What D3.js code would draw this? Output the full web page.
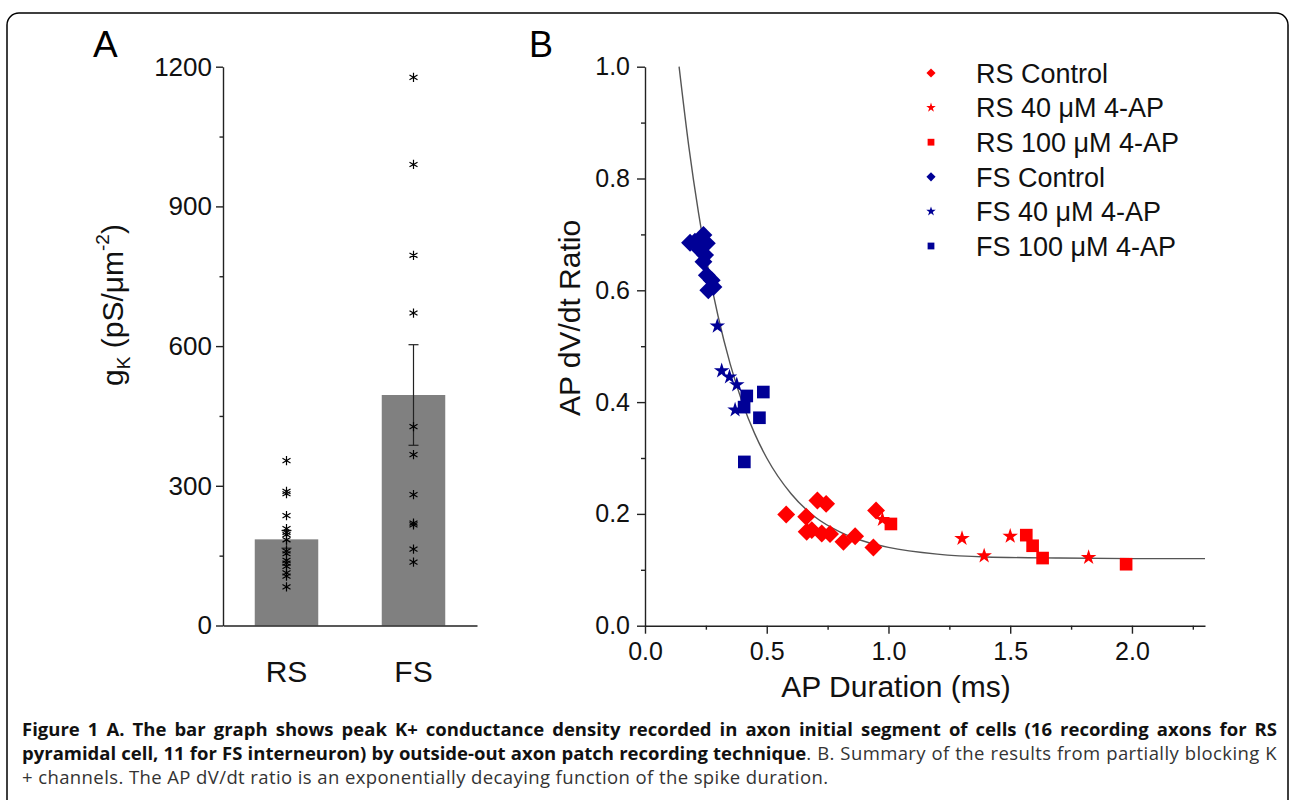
<!DOCTYPE html>
<html>
<head>
<meta charset="utf-8">
<script src="https://cdn.jsdelivr.net/npm/d3@7"></script>
<style>
body { margin: 0; background: #fff; }
#fig { position: relative; width: 1290px; height: 800px; overflow: hidden; background: #fff; }
#fig svg { position: absolute; left: 0; top: 0; }
.cap { position: absolute; left: 22px; width: 1255px; font-family: "Open Sans", sans-serif; font-size: 18.5px; line-height: 24px; color: #333; text-align: justify; text-align-last: justify; white-space: nowrap; }
.cap.last { text-align: left; text-align-last: left; }
.cap b { color: #111; }
.cap span { letter-spacing: 0.4px; }
</style>
</head>
<body>
<div id="fig"></div>
<script>
/*global d3*/

// panel A - peak K+ conductance density
const gkCategories = ["RS", "FS"];
const gkMeans = [185, 495];
const gkErrors = [19, 108];
const rsCells = [354, 288, 283, 236, 208, 200, 195, 184, 160, 154, 140, 134, 127, 113, 106, 83];
const fsCells = [1177, 990, 795, 671, 427, 367, 281, 220, 216, 164, 136];
const gkTicks = [0, 300, 600, 900, 1200];
const gkMinorTicks = [150, 450, 750, 1050];

// panel B - [AP duration (ms), AP dV/dt ratio]
const rsControl = [[0.580, 0.199], [0.662, 0.195], [0.708, 0.224], [0.744, 0.218], [0.664, 0.168], [0.685, 0.171],
    [0.726, 0.165], [0.760, 0.164], [0.815, 0.150], [0.863, 0.160], [0.949, 0.206], [0.938, 0.140]];
const rs40 = [[0.975, 0.190], [1.302, 0.156], [1.393, 0.125], [1.500, 0.160], [1.822, 0.122]];
const rs100 = [[1.010, 0.182], [1.566, 0.162], [1.592, 0.143], [1.633, 0.121], [1.976, 0.110]];
const fsControl = [[0.185, 0.685], [0.205, 0.687], [0.219, 0.681], [0.240, 0.699], [0.254, 0.684], [0.226, 0.672],
    [0.247, 0.663], [0.240, 0.651], [0.254, 0.627], [0.274, 0.618], [0.281, 0.606], [0.260, 0.600]];
const fs40 = [[0.297, 0.536], [0.315, 0.456], [0.347, 0.445], [0.377, 0.431], [0.370, 0.386]];
const fs100 = [[0.418, 0.411], [0.486, 0.418], [0.407, 0.391], [0.470, 0.372], [0.408, 0.293]];
// exponential fit line
const fitCurve = [[0.14, 1.0], [0.18, 0.857], [0.22, 0.738], [0.26, 0.638], [0.30, 0.554], [0.35, 0.468],
    [0.40, 0.399], [0.45, 0.344], [0.50, 0.300], [0.60, 0.236], [0.70, 0.194], [0.80, 0.168], [0.90, 0.151],
    [1.00, 0.140], [1.20, 0.128], [1.40, 0.123], [1.70, 0.121], [2.00, 0.120], [2.30, 0.120]];
const durTicks = [0, 0.5, 1.0, 1.5, 2.0];
const durMinorTicks = [0.25, 0.75, 1.25, 1.75, 2.25];
const ratioTicks = [0, 0.2, 0.4, 0.6, 0.8, 1.0];
const ratioMinorTicks = [0.1, 0.3, 0.5, 0.7, 0.9];

const captionLines = [
    {bold: "Figure 1 A. The bar graph shows peak K+ conductance density recorded in axon initial segment of cells (16 recording axons for RS", normal: ""},
    {bold: "pyramidal cell, 11 for FS interneuron) by outside-out axon patch recording technique", normal: ". B. Summary of the results from partially blocking K"},
    {bold: "", normal: "+ channels. The AP dV/dt ratio is an exponentially decaying function of the spike duration."}
];

const red = "#ff0000";
const navy = "#000096";
const font = "'Liberation Sans', Arial, sans-serif";

const seriesB = [
    {name: "RS Control", data: rsControl, color: red, shape: "diamond"},
    {name: "RS 40 \u03bcM 4-AP", data: rs40, color: red, shape: "star"},
    {name: "RS 100 \u03bcM 4-AP", data: rs100, color: red, shape: "square"},
    {name: "FS Control", data: fsControl, color: navy, shape: "diamond"},
    {name: "FS 40 \u03bcM 4-AP", data: fs40, color: navy, shape: "star"},
    {name: "FS 100 \u03bcM 4-AP", data: fs100, color: navy, shape: "square"}
];

const fig = d3.select('#fig');
const svg = fig.append('svg')
    .attr('width', 1290)
    .attr('height', 800);

// outer frame
svg.append('rect')
    .attr('x', 7).attr('y', 13)
    .attr('width', 1281).attr('height', 840)
    .attr('rx', 12)
    .attr('fill', 'none')
    .attr('stroke', '#000')
    .attr('stroke-width', 1.5);

function styleAxis(g, size) {
    g.attr('font-family', font).attr('font-size', size);
    g.selectAll('path, line').attr('stroke', '#222').attr('stroke-width', 1.4);
    g.selectAll('text').attr('fill', '#111');
}

// ---------- panel A ----------
const yA = d3.scaleLinear().domain([0, 1200]).range([625.5, 66.7]);
const xA = d3.scaleBand().domain(gkCategories).range([223, 477]).paddingInner(0.5).paddingOuter(0.25);

svg.append('g')
    .selectAll('rect')
    .data(gkCategories)
    .join('rect')
    .attr('x', d => xA(d))
    .attr('width', xA.bandwidth())
    .attr('y', (d, i) => yA(gkMeans[i]))
    .attr('height', (d, i) => yA(0) - yA(gkMeans[i]))
    .attr('fill', '#808080');

const errG = svg.append('g').attr('stroke', '#222').attr('stroke-width', 1.2);
gkCategories.forEach(function(c, i) {
    const cx = xA(c) + xA.bandwidth() / 2;
    const lo = yA(gkMeans[i] - gkErrors[i]);
    const hi = yA(gkMeans[i] + gkErrors[i]);
    errG.append('line').attr('x1', cx).attr('x2', cx).attr('y1', lo).attr('y2', hi);
    errG.append('line').attr('x1', cx - 5).attr('x2', cx + 5).attr('y1', lo).attr('y2', lo);
    errG.append('line').attr('x1', cx - 5).attr('x2', cx + 5).attr('y1', hi).attr('y2', hi);
});

const cellPoints = [];
rsCells.forEach(v => cellPoints.push({cat: "RS", v: v}));
fsCells.forEach(v => cellPoints.push({cat: "FS", v: v}));

svg.append('g')
    .selectAll('path')
    .data(cellPoints)
    .join('path')
    .attr('d', d3.symbol().type(d3.symbolAsterisk).size(60))
    .attr('transform', d => "translate(" + (xA(d.cat) + xA.bandwidth() / 2) + "," + yA(d.v) + ")")
    .attr('fill', 'none')
    .attr('stroke', '#000')
    .attr('stroke-width', 1.2);

const axA = svg.append('g')
    .attr('transform', 'translate(223,0)')
    .call(d3.axisLeft(yA).tickValues(gkTicks).tickFormat(d3.format('d')).tickSize(7).tickPadding(4).tickSizeOuter(0));
styleAxis(axA, 26);

const axAminor = svg.append('g')
    .attr('transform', 'translate(223,0)')
    .call(d3.axisLeft(yA).tickValues(gkMinorTicks).tickSize(3.5).tickFormat(''));
axAminor.select('.domain').remove();
styleAxis(axAminor, 26);

const axAx = svg.append('g')
    .attr('transform', 'translate(0,' + yA(0) + ')')
    .call(d3.axisBottom(xA).tickSize(0).tickPadding(35).tickSizeOuter(0));
styleAxis(axAx, 30);

const titleA = svg.append('text')
    .attr('transform', 'translate(123,305) rotate(-90)')
    .attr('text-anchor', 'middle')
    .attr('font-family', font)
    .attr('font-size', 30)
    .attr('fill', '#111');
titleA.append('tspan').text('g');
titleA.append('tspan').attr('font-size', 19).attr('dy', 7).text('K');
titleA.append('tspan').attr('dy', -7).text(' (pS/\u03bcm');
titleA.append('tspan').attr('font-size', 19).attr('dy', -14).text('-2');
titleA.append('tspan').attr('dy', 14).text(')');

svg.append('text')
    .attr('x', 93).attr('y', 57)
    .attr('font-family', font)
    .attr('font-size', 37)
    .text('A');

// ---------- panel B ----------
const xB = d3.scaleLinear().domain([0, 2.3]).range([645, 1205]);
const yB = d3.scaleLinear().domain([0, 1]).range([625.7, 66.7]);

svg.append('path')
    .datum(fitCurve)
    .attr('d', d3.line().x(d => xB(d[0])).y(d => yB(d[1])).curve(d3.curveMonotoneX))
    .attr('fill', 'none')
    .attr('stroke', '#555')
    .attr('stroke-width', 1.4);

function markPath(shape, size) {
    const type = shape === 'star' ? d3.symbolStar : d3.symbolSquare;
    return d3.symbol().type(type).size(size)();
}
const markSize = {diamond: 160, star: 75, square: 160};
const legendSize = {diamond: 42, star: 28, square: 46};

seriesB.forEach(function(s) {
    svg.append('g')
        .selectAll('path')
        .data(s.data)
        .join('path')
        .attr('d', markPath(s.shape, markSize[s.shape]))
        .attr('transform', d => "translate(" + xB(d[0]) + "," + yB(d[1]) + ")" + (s.shape === 'diamond' ? " rotate(45)" : ""))
        .attr('fill', s.color);
});

const axBx = svg.append('g')
    .attr('transform', 'translate(0,' + yB(0) + ')')
    .call(d3.axisBottom(xB).tickValues(durTicks).tickFormat(d3.format('.1f')).tickSize(8).tickPadding(9).tickSizeOuter(0));
styleAxis(axBx, 25);
const axBxMinor = svg.append('g')
    .attr('transform', 'translate(0,' + yB(0) + ')')
    .call(d3.axisBottom(xB).tickValues(durMinorTicks).tickSize(4).tickFormat(''));
axBxMinor.select('.domain').remove();
styleAxis(axBxMinor, 25);

const axBy = svg.append('g')
    .attr('transform', 'translate(645,0)')
    .call(d3.axisLeft(yB).tickValues(ratioTicks).tickFormat(d3.format('.1f')).tickSize(8).tickPadding(7).tickSizeOuter(0));
styleAxis(axBy, 25);
const axByMinor = svg.append('g')
    .attr('transform', 'translate(645,0)')
    .call(d3.axisLeft(yB).tickValues(ratioMinorTicks).tickSize(4).tickFormat(''));
axByMinor.select('.domain').remove();
styleAxis(axByMinor, 25);

svg.append('text')
    .attr('transform', 'translate(580,318) rotate(-90)')
    .attr('text-anchor', 'middle')
    .attr('font-family', font)
    .attr('font-size', 30)
    .attr('fill', '#111')
    .text('AP dV/dt Ratio');

svg.append('text')
    .attr('x', 896).attr('y', 697)
    .attr('text-anchor', 'middle')
    .attr('font-family', font)
    .attr('font-size', 30)
    .attr('fill', '#111')
    .text('AP Duration (ms)');

svg.append('text')
    .attr('x', 529).attr('y', 57)
    .attr('font-family', font)
    .attr('font-size', 36)
    .text('B');

// legend
const legend = svg.append('g')
    .selectAll('g')
    .data(seriesB)
    .join('g')
    .attr('transform', (d, i) => "translate(931," + (73 + i * 34.6) + ")");
legend.append('path')
    .attr('d', d => markPath(d.shape, legendSize[d.shape]))
    .attr('transform', d => d.shape === 'diamond' ? "rotate(45)" : null)
    .attr('fill', d => d.color);
legend.append('text')
    .attr('x', 45)
    .attr('dy', '0.36em')
    .attr('font-family', font)
    .attr('font-size', 27)
    .attr('fill', '#111')
    .text(d => d.name);

// caption
captionLines.forEach(function(l, i) {
    const div = fig.append('div')
        .attr('class', i === captionLines.length - 1 ? 'cap last' : 'cap')
        .style('top', (717 + i * 24) + 'px');
    if (l.bold) div.append('b').text(l.bold);
    if (l.normal) div.append('span').text(l.normal);
});
</script>
</body>
</html>
